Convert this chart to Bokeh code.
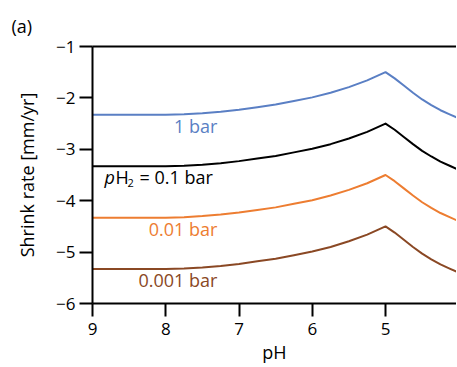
from bokeh.plotting import figure
from bokeh.models import Range1d, LinearAxis, Label, FixedTicker
from bokeh.embed import file_html
from bokeh.resources import INLINE

# pH grid and shrink rates [mm/yr]
ph = [9.0, 8.75, 8.5, 8.25, 8.0, 7.75, 7.5, 7.25, 7.0, 6.75, 6.5, 6.25, 6.0,
      5.75, 5.5, 5.25, 5.0, 4.875, 4.75, 4.625, 4.5, 4.375, 4.25, 4.125, 4.0]
rate_1bar = [-2.33, -2.33, -2.33, -2.33, -2.33, -2.32, -2.30, -2.27, -2.23, -2.18,
             -2.13, -2.06, -1.99, -1.90, -1.79, -1.66, -1.50, -1.62, -1.76, -1.90,
             -2.03, -2.14, -2.24, -2.32, -2.40]
rate_01bar = [-3.33, -3.33, -3.33, -3.33, -3.33, -3.32, -3.30, -3.27, -3.23, -3.18,
              -3.13, -3.06, -2.99, -2.90, -2.79, -2.66, -2.50, -2.62, -2.76, -2.90,
              -3.03, -3.14, -3.24, -3.32, -3.40]
rate_001bar = [-4.33, -4.33, -4.33, -4.33, -4.33, -4.32, -4.30, -4.27, -4.23, -4.18,
               -4.13, -4.06, -3.99, -3.90, -3.79, -3.66, -3.50, -3.62, -3.76, -3.90,
               -4.03, -4.14, -4.24, -4.32, -4.40]
rate_0001bar = [-5.33, -5.33, -5.33, -5.33, -5.33, -5.32, -5.30, -5.27, -5.23, -5.18,
                -5.13, -5.06, -4.99, -4.90, -4.79, -4.66, -4.50, -4.62, -4.76, -4.90,
                -5.03, -5.14, -5.24, -5.32, -5.40]

x_ticks = [9, 8, 7, 6, 5, 4]
y_ticks = [-6, -5, -4, -3, -2, -1]

FONT = "Open Sans"
BLUE = "#5a7fc4"
BLACK = "#000000"
ORANGE = "#ed7d31"
BROWN = "#8a4824"

p = figure(width=456, height=366, x_range=Range1d(9, 4.031), y_range=Range1d(-6, -1),
           output_backend="svg", toolbar_location=None,
           min_border_left=92, min_border_right=0, min_border_top=46, min_border_bottom=63)
p.grid.visible = False
p.outline_line_color = None
p.background_fill_color = "white"
p.border_fill_color = "white"

p.title.text = "(a)"
p.title.align = "left"
p.title.offset = -81
p.title.text_font = FONT
p.title.text_font_size = "18px"
p.title.text_font_style = "normal"
p.title.text_color = "black"
p.title.standoff = 17

for ax in (p.xaxis[0], p.yaxis[0]):
    ax.axis_line_width = 2
    ax.axis_line_color = "black"
    ax.major_tick_line_width = 2
    ax.major_tick_line_color = "black"
    ax.major_tick_out = 13
    ax.major_tick_in = 0
    ax.minor_tick_out = 0
    ax.minor_tick_in = 0
    ax.major_label_text_font = FONT
    ax.major_label_text_font_size = "17px"
    ax.major_label_text_color = "black"
    ax.axis_label_text_font = FONT
    ax.axis_label_text_font_size = "18px"
    ax.axis_label_text_font_style = "normal"
    ax.axis_label_text_color = "black"

p.xaxis.ticker = FixedTicker(ticks=x_ticks)
p.yaxis.ticker = FixedTicker(ticks=y_ticks)
p.xaxis.axis_label = "pH"
p.yaxis.axis_label = "Shrink rate [mm/yr]"
p.xaxis.major_label_standoff = 6
p.yaxis.major_label_standoff = 4
p.xaxis.axis_label_standoff = 2
p.yaxis.axis_label_standoff = 14

top = LinearAxis(ticker=FixedTicker(ticks=[]), major_label_text_font_size="0px",
                 major_tick_out=0, major_tick_in=0, minor_tick_out=0, minor_tick_in=0,
                 axis_line_width=2, axis_line_color="black")
p.add_layout(top, "above")

for ys, col in ((rate_1bar, BLUE), (rate_01bar, BLACK), (rate_001bar, ORANGE), (rate_0001bar, BROWN)):
    p.line(ph, ys, line_color=col, line_width=2, line_join="round")

def lab(x, y, text, color, size="18px", align="right", style="normal", xo=0, yo=0):
    p.add_layout(Label(x=x, y=y, text=text, text_color=color, text_font=FONT,
                       text_font_size=size, text_align=align, text_baseline="middle",
                       text_font_style=style, x_offset=xo, y_offset=yo))

lab(7.295, -2.554, "1 bar", BLUE)
lab(7.295, -4.548, "0.01 bar", ORANGE)
lab(7.295, -5.54, "0.001 bar", BROWN)
# pH2 = 0.1 bar, built from pieces
lab(8.836, -3.548, "p", BLACK, align="left", style="italic")
lab(8.836, -3.548, "H", BLACK, align="left", xo=11)
lab(8.836, -3.548, "2", BLACK, size="11px", align="left", xo=23, yo=-6)
lab(8.836, -3.548, "= 0.1 bar", BLACK, align="left", xo=35)

open("out.html", "w").write(file_html(p, INLINE))
